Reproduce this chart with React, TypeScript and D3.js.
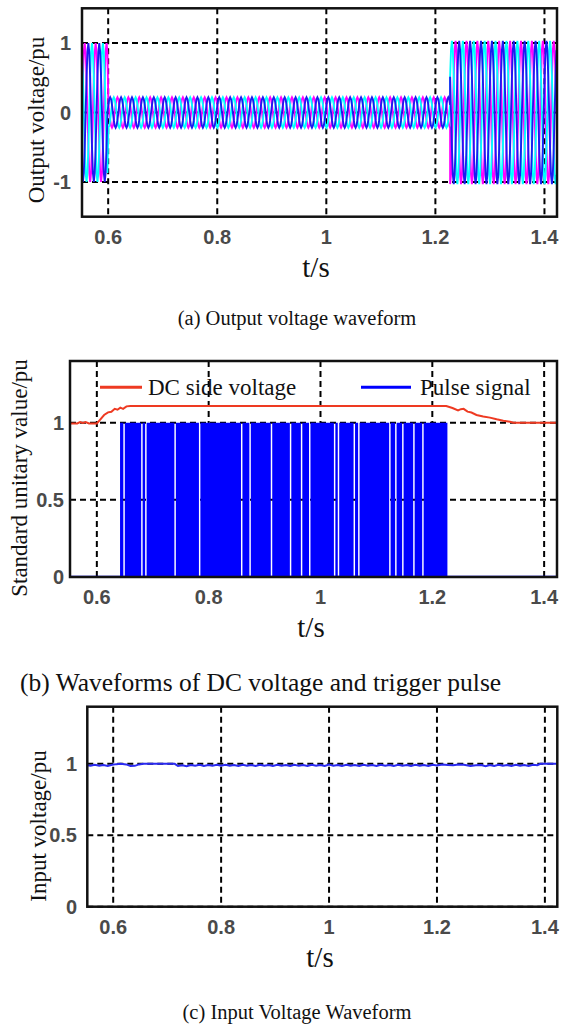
import { useEffect, useRef } from 'react'
import * as d3 from 'd3'

// shared time axis
const T_DOMAIN: [number, number] = [0.552, 1.423]
const T_TICKS = [0.6, 0.8, 1, 1.2, 1.4]

// (a) output voltage, three phases
const OUT_Y_DOMAIN: [number, number] = [-1.5, 1.5]
const OUT_Y_TICKS = [-1, 0, 1]
const SINE_CYCLE = [0, 0.5, 0.87, 1, 0.87, 0.5, 0, -0.5, -0.87, -1, -0.87, -0.5]
const CYCLE_PERIOD = 0.02
const OUT_SEGMENTS = [
  { t0: 0.552, t1: 0.6, amp: 1.0 },
  { t0: 0.6, t1: 1.227, amp: 0.22 },
  { t0: 1.227, t1: 1.423, amp: 1.03 },
]
const PHASE_SHIFTS = [0, 4, 8]

// (b) DC side voltage and pulse signal
const DC_Y_DOMAIN: [number, number] = [0, 1.4]
const DC_Y_TICKS = [0, 0.5, 1]
const DC_VOLTAGE: [number, number][] = [
  [0.552, 0.995], [0.565, 0.995], [0.57, 1.004], [0.575, 0.999], [0.58, 1.004],
  [0.586, 0.995], [0.6, 0.995], [0.606, 1.02], [0.613, 1.05], [0.62, 1.067],
  [0.626, 1.071], [0.632, 1.09], [0.637, 1.084], [0.642, 1.098], [0.647, 1.09],
  [0.653, 1.106], [0.66, 1.108], [0.9, 1.108], [1.225, 1.108], [1.236, 1.095],
  [1.246, 1.08], [1.251, 1.088], [1.256, 1.09], [1.263, 1.072], [1.27, 1.066],
  [1.279, 1.05], [1.291, 1.04], [1.303, 1.033], [1.315, 1.022], [1.327, 1.013],
  [1.339, 1.006], [1.345, 1.0], [1.423, 1.0],
]
const PULSE_ON = 0.6415
const PULSE_OFF = 1.227
const PULSE_GAPS = [
  0.6487, 0.6806, 0.6877, 0.74, 0.7839, 0.8591, 0.8741, 0.9124, 0.9465, 0.9662,
  0.9808, 1.0253, 1.0322, 1.0605, 1.0686, 1.1241, 1.1348, 1.1473, 1.1671, 1.1832,
]
const PULSE_GAP_WIDTH = 0.0026

// (c) input voltage
const IN_Y_DOMAIN: [number, number] = [0, 1.4]
const IN_Y_TICKS = [0, 0.5, 1]
const INPUT_VOLTAGE: [number, number][] = [
  [0.552, 0.99], [0.558, 0.986], [0.566, 0.993], [0.574, 0.986], [0.582, 0.992],
  [0.59, 0.985], [0.598, 0.993], [0.606, 0.998], [0.614, 1.0], [0.624, 0.996],
  [0.632, 0.985], [0.64, 0.986], [0.648, 0.996], [0.656, 1.0], [0.714, 1.0],
  [0.72, 0.985], [0.728, 0.99], [0.736, 0.984], [0.744, 0.992], [0.752, 0.986],
  [0.76, 0.993], [0.768, 0.985], [0.776, 0.992], [0.784, 0.986], [0.792, 0.993],
  [0.8, 0.987], [0.808, 0.993], [0.816, 0.986], [0.824, 0.992], [0.832, 0.985],
  [0.84, 0.993], [0.848, 0.986], [0.856, 0.992], [0.864, 0.985], [0.872, 0.993],
  [0.88, 0.986], [0.888, 0.992], [0.896, 0.985], [0.904, 0.993], [0.912, 0.986],
  [0.92, 0.992], [0.928, 0.985], [0.936, 0.994], [0.944, 0.986], [0.952, 0.992],
  [0.96, 0.985], [0.968, 0.993], [0.976, 0.986], [0.984, 0.992], [0.992, 0.985],
  [1.0, 0.995], [1.008, 0.986], [1.016, 0.992], [1.024, 0.985], [1.032, 0.993],
  [1.04, 0.986], [1.048, 0.992], [1.056, 0.985], [1.064, 0.993], [1.072, 0.986],
  [1.08, 0.992], [1.088, 0.985], [1.096, 0.993], [1.104, 0.986], [1.112, 0.992],
  [1.12, 0.985], [1.128, 0.993], [1.136, 0.986], [1.144, 0.992], [1.152, 0.985],
  [1.16, 0.993], [1.168, 0.986], [1.176, 0.992], [1.184, 0.985], [1.192, 0.994],
  [1.2, 0.988], [1.21, 0.996], [1.22, 0.992], [1.23, 0.99], [1.24, 0.995],
  [1.25, 0.993], [1.262, 0.985], [1.272, 0.99], [1.282, 0.992], [1.29, 0.984],
  [1.298, 0.992], [1.306, 0.985], [1.314, 0.993], [1.322, 0.986], [1.33, 0.992],
  [1.338, 0.985], [1.346, 0.993], [1.354, 0.986], [1.362, 0.992], [1.37, 0.985],
  [1.378, 0.993], [1.386, 0.99], [1.392, 1.0], [1.423, 1.0],
]

const PHASE_COLORS = ['#ff00ff', '#00ffff', '#1c1cf0']
const SERIF = '"Liberation Serif", "Times New Roman", serif'
const SANS = '"Liberation Sans", Arial, sans-serif'

type Sel = d3.Selection<SVGSVGElement, unknown, null, undefined>

interface PanelOpts {
  id: string
  left: number
  right: number
  top: number
  bottom: number
  yDomain: [number, number]
  yTicks: number[]
  tickRight: number
  yLabel: string
  yLabelX: number
  yLabelY: number
  tLabelX: number
}

function makePanel(svg: Sel, o: PanelOpts) {
  const x = d3.scaleLinear().domain(T_DOMAIN).range([o.left, o.right])
  const y = d3.scaleLinear().domain(o.yDomain).range([o.bottom, o.top])

  svg.append('clipPath').attr('id', `clip-${o.id}`)
    .append('rect')
    .attr('x', o.left).attr('y', o.top)
    .attr('width', o.right - o.left).attr('height', o.bottom - o.top)

  const grid = svg.append('g')
  grid.selectAll('line.v').data(T_TICKS).join('line')
    .attr('x1', (d) => x(d)).attr('x2', (d) => x(d))
    .attr('y1', o.top).attr('y2', o.bottom)
  grid.selectAll('line.h').data(o.yTicks).join('line')
    .attr('x1', o.left).attr('x2', o.right)
    .attr('y1', (d) => y(d)).attr('y2', (d) => y(d))
  grid.selectAll('line')
    .attr('stroke', '#000').attr('stroke-width', 2).attr('stroke-dasharray', '6,4')

  const plot = svg.append('g').attr('clip-path', `url(#clip-${o.id})`)

  const finish = () => {
    svg.append('rect')
      .attr('x', o.left).attr('y', o.top)
      .attr('width', o.right - o.left).attr('height', o.bottom - o.top)
      .attr('fill', 'none').attr('stroke', '#111').attr('stroke-width', 2.5)

    svg.append('g').selectAll('text').data(T_TICKS).join('text')
      .attr('x', (d) => x(d)).attr('y', o.bottom + 20)
      .attr('dy', '0.35em').attr('text-anchor', 'middle')
      .attr('font-family', SANS).attr('font-size', 20).attr('font-weight', 'bold')
      .attr('fill', '#4a4a4a')
      .text((d) => String(d))

    svg.append('g').selectAll('text').data(o.yTicks).join('text')
      .attr('x', o.tickRight).attr('y', (d) => y(d))
      .attr('dy', '0.35em').attr('text-anchor', 'end')
      .attr('font-family', SANS).attr('font-size', 20).attr('font-weight', 'bold')
      .attr('fill', '#4a4a4a')
      .text((d) => String(d))

    svg.append('text')
      .attr('x', o.tLabelX).attr('y', o.bottom + 50)
      .attr('dy', '0.35em').attr('text-anchor', 'middle')
      .attr('font-family', SERIF).attr('font-size', 29).attr('fill', '#111')
      .text('t/s')

    svg.append('text')
      .attr('transform', `translate(${o.yLabelX},${o.yLabelY}) rotate(-90)`)
      .attr('dy', '0.35em').attr('text-anchor', 'middle')
      .attr('font-family', SERIF).attr('font-size', 23).attr('fill', '#111')
      .text(o.yLabel)
  }

  return { x, y, plot, finish }
}

export default function App() {
  const svgRef = useRef<SVGSVGElement>(null)

  useEffect(() => {
    if (!svgRef.current) return
    const svg = d3.select(svgRef.current)
    svg.selectAll('*').remove()

    // ---- (a) Output voltage ----
    const a = makePanel(svg, {
      id: 'a', left: 82, right: 557, top: 8.3, bottom: 216.7,
      yDomain: OUT_Y_DOMAIN, yTicks: OUT_Y_TICKS, tickRight: 71,
      yLabel: 'Output voltage/pu', yLabelX: 36, yLabelY: 120, tLabelX: 316,
    })
    const step = CYCLE_PERIOD / SINE_CYCLE.length
    PHASE_SHIFTS.forEach((shift, i) => {
      const pts: [number, number][] = []
      OUT_SEGMENTS.forEach((seg) => {
        const k0 = Math.ceil((seg.t0 - T_DOMAIN[0]) / step - 1e-9)
        const k1 = Math.floor((seg.t1 - T_DOMAIN[0]) / step + 1e-9)
        for (let k = k0; k <= k1; k++) {
          const n = SINE_CYCLE.length
          pts.push([T_DOMAIN[0] + k * step, seg.amp * SINE_CYCLE[(k + shift) % n]])
        }
      })
      a.plot.append('path')
        .datum(pts)
        .attr('fill', 'none')
        .attr('stroke', PHASE_COLORS[i])
        .attr('stroke-width', 1.9)
        .attr('d', d3.line<[number, number]>().x((d) => a.x(d[0])).y((d) => a.y(d[1])))
    })
    a.finish()

    svg.append('text')
      .attr('x', 297).attr('y', 318.3).attr('dy', '0.35em').attr('text-anchor', 'middle')
      .attr('font-family', SERIF).attr('font-size', 20.5).attr('fill', '#111')
      .text('(a) Output voltage waveform')

    // ---- (b) DC voltage and pulse ----
    const b = makePanel(svg, {
      id: 'b', left: 70, right: 557, top: 361, bottom: 577,
      yDomain: DC_Y_DOMAIN, yTicks: DC_Y_TICKS, tickRight: 64,
      yLabel: 'Standard unitary value/pu', yLabelX: 19, yLabelY: 478, tLabelX: 311,
    })
    const pulse: [number, number][] = [[T_DOMAIN[0], 0], [PULSE_ON, 0], [PULSE_ON, 1]]
    PULSE_GAPS.forEach((g) => {
      const s = g - PULSE_GAP_WIDTH / 2
      const e = g + PULSE_GAP_WIDTH / 2
      pulse.push([s, 1], [s, 0], [e, 0], [e, 1])
    })
    pulse.push([PULSE_OFF, 1], [PULSE_OFF, 0], [T_DOMAIN[1], 0])
    b.plot.append('path')
      .datum(pulse)
      .attr('fill', '#0000ff')
      .attr('d', d3.area<[number, number]>().x((d) => b.x(d[0])).y0(b.y(0)).y1((d) => b.y(d[1])))
    b.plot.append('path')
      .datum(pulse.filter((d) => d[1] === 0))
      .attr('fill', 'none').attr('stroke', '#0000ff').attr('stroke-width', 2.5)
      .attr('d', d3.line<[number, number]>().x((d) => b.x(d[0])).y((d) => b.y(d[1])))
    b.plot.append('path')
      .datum(DC_VOLTAGE)
      .attr('fill', 'none').attr('stroke', '#ee3a22').attr('stroke-width', 2)
      .attr('d', d3.line<[number, number]>().x((d) => b.x(d[0])).y((d) => b.y(d[1])))

    // legend
    const legend = svg.append('g')
    legend.append('line')
      .attr('x1', 100).attr('x2', 142).attr('y1', 387.3).attr('y2', 387.3)
      .attr('stroke', '#ee3a22').attr('stroke-width', 3)
    legend.append('text')
      .attr('x', 148).attr('y', 387.3).attr('dy', '0.35em')
      .attr('font-family', SERIF).attr('font-size', 23).attr('fill', '#111')
      .text('DC side voltage')
    legend.append('line')
      .attr('x1', 361).attr('x2', 411).attr('y1', 387.3).attr('y2', 387.3)
      .attr('stroke', '#0000ff').attr('stroke-width', 3)
    legend.append('text')
      .attr('x', 420).attr('y', 387.3).attr('dy', '0.35em')
      .attr('font-family', SERIF).attr('font-size', 23).attr('fill', '#111')
      .text('Pulse signal')
    b.finish()

    svg.append('text')
      .attr('x', 20).attr('y', 681.7).attr('dy', '0.35em')
      .attr('font-family', SERIF).attr('font-size', 25.5).attr('fill', '#111')
      .text('(b) Waveforms of DC voltage and trigger pulse')

    // ---- (c) Input voltage ----
    const c = makePanel(svg, {
      id: 'c', left: 87.3, right: 557.3, top: 706.7, bottom: 906.7,
      yDomain: IN_Y_DOMAIN, yTicks: IN_Y_TICKS, tickRight: 77,
      yLabel: 'Input voltage/pu', yLabelX: 37.5, yLabelY: 826, tLabelX: 320,
    })
    c.plot.append('path')
      .datum(INPUT_VOLTAGE)
      .attr('fill', 'none').attr('stroke', '#2a2af0').attr('stroke-width', 2)
      .attr('d', d3.line<[number, number]>().x((d) => c.x(d[0])).y((d) => c.y(d[1])))
    c.finish()

    svg.append('text')
      .attr('x', 297).attr('y', 1011.7).attr('dy', '0.35em').attr('text-anchor', 'middle')
      .attr('font-family', SERIF).attr('font-size', 20.5).attr('fill', '#111')
      .text('(c) Input Voltage Waveform')
  }, [])

  return (
    <svg
      ref={svgRef}
      width={561}
      height={1025}
      style={{ position: 'absolute', left: 0, top: 0, background: '#fff' }}
    />
  )
}
